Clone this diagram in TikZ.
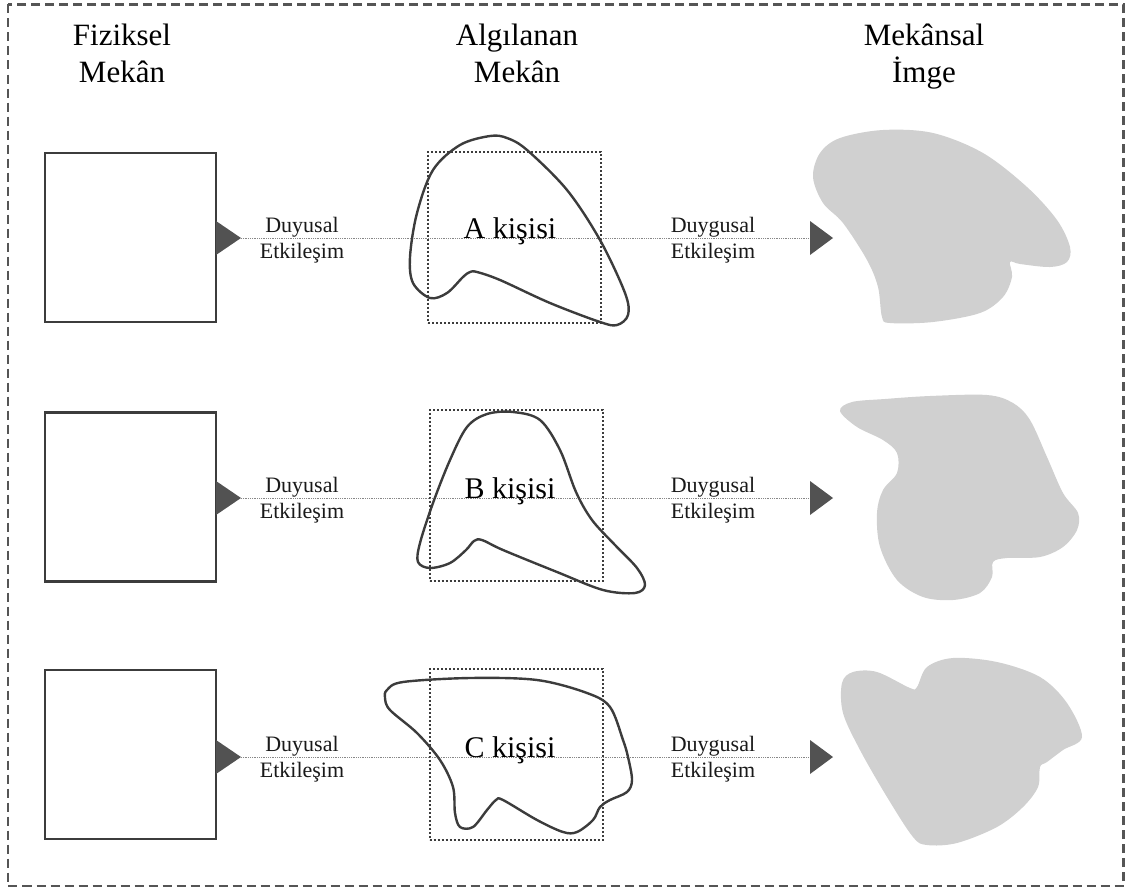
\documentclass[tikz,border=0pt]{standalone}
\usepackage{fontspec}
\setmainfont{Liberation Serif}
\definecolor{inkgray}{RGB}{60,60,60}
\definecolor{tipgray}{RGB}{82,82,82}
\definecolor{linkgray}{RGB}{135,135,135}
\definecolor{blobgray}{RGB}{208,208,208}
\definecolor{framegray}{RGB}{85,85,85}
\begin{document}
\begin{tikzpicture}[x=1pt,y=-1pt,
  border/.style={draw=framegray, line width=2.2pt, dash pattern=on 9pt off 5pt},
  hdr/.style={font=\fontsize{31}{36}\selectfont, align=center, inner sep=0pt, text=black},
  lbl/.style={font=\fontsize{22}{26}\selectfont, align=center, inner sep=0pt, text=black!90},
  who/.style={font=\fontsize{30}{36}\selectfont, inner sep=0pt, anchor=base, text=black},
  physbox/.style={draw=inkgray, line width=2.2pt, fill=white, minimum width=171pt, minimum height=169pt, inner sep=0pt},
  percframe/.style={draw=inkgray, line width=2pt, dash pattern=on 2pt off 2pt, minimum width=173pt, minimum height=171pt, inner sep=0pt},
  link/.style={draw=linkgray, line width=1pt, dash pattern=on 1pt off 0.8pt},
  tri/.style={fill=tipgray},
  percshape/.style={draw=inkgray, line width=2.4pt, line join=round},
  imgshape/.style={fill=blobgray}
]
\useasboundingbox (0,0) rectangle (1129,891);

% outer dashed frame
\draw[border] (8,4.5) rectangle (1123.5,886);

% column headings (anchor base = baseline of the last line)
\node[hdr, anchor=base] (hPhys) at (122,82) {Fiziksel\\Mekân};
\node[hdr, anchor=base] (hPerc) at (517,82) {Algılanan\\Mekân};
\node[hdr, anchor=base] (hImg)  at (924,82) {Mekânsal\\İmge};

% perceived-space frames
\node[percframe] (frA) at (514.5,237) {};
\node[percframe] (frB) at (516,495) {};
\node[percframe] (frC) at (516,754.5) {};

% rows: physical box, sensory link, emotional link
\foreach \r/\L/\sy/\who in {A/238/237.5/A kişisi, B/498/497/B kişisi, C/757/754.5/C kişisi}{
  \node[physbox] (sq\r) at (130.5,\sy) {};
  \coordinate (tip\r) at (241,\L);
  \coordinate (end\r) at (810,\L);
  \draw[link] (tip\r) -- (end\r);
  \fill[tri] (tip\r) -- ++(-25,-17) -- ++(0,34) -- cycle;
  \fill[tri] (end\r) -- ++(0,-17) -- ++(23,17) -- ++(-23,17) -- cycle;
  \node[lbl, anchor=base] (sense\r) at (302,\L+20) {Duyusal\\Etkileşim};
  \node[lbl, anchor=base] (emo\r) at (713,\L+20) {Duygusal\\Etkileşim};
  \node[who] (who\r) at (510,\L) {\who};
}

% perceived outlines
\draw[percshape] plot[smooth cycle, tension=0.55] coordinates {
  (490,136) (507,138) (527,150) (567,190) (600,240) (625,293) (628,315)
  (617,325) (600,322) (550,303) (500,280) (477,272) (470,272) (463,277)
  (447,293) (430,298) (413,283) (410,257) (417,213) (433,170) (460,145)};
\draw[percshape] plot[smooth cycle, tension=0.55] coordinates {
  (513,412) (540,420) (560,450) (576,492) (592,520) (615,545) (637,568)
  (645,585) (635,593) (603,590) (557,572) (503,550) (482,540) (474,541)
  (466,550) (450,563) (430,568) (418,562) (420,543) (433,503) (450,460)
  (467,427) (487,414)};
\draw[percshape] plot[smooth cycle, tension=0.55] coordinates {
  (387,690) (403,682) (470,678) (537,680) (587,693) (610,707) (623,740)
  (628,757) (632,780) (627,792) (610,800) (600,807) (593,820) (577,832)
  (563,832) (537,820) (503,800) (496,800) (487,810) (473,827) (460,827)
  (455,813) (453,787) (440,760) (417,733) (390,710) (385,698)};

% spatial images
\fill[imgshape] plot[smooth cycle, tension=0.55] coordinates {
  (813,177) (820,153) (840,138) (883,130) (933,133) (983,153) (1027,187)
  (1057,220) (1070,247) (1067,262) (1050,267) (1020,264) (1010,262)
  (1012,277) (1003,297) (980,313) (933,322) (890,323) (882,317) (878,287)
  (867,260) (843,223) (823,203)};
\fill[imgshape] plot[smooth cycle, tension=0.55] coordinates {
  (840,411) (852,402) (885,399) (930,396) (987,395) (1013,403) (1030,420)
  (1047,457) (1063,493) (1078,513) (1077,530) (1063,547) (1040,557)
  (1007,558) (993,562) (992,577) (980,593) (953,600) (923,597) (897,580)
  (880,547) (877,513) (883,490) (897,473) (897,453) (883,440) (857,427)};
\fill[imgshape] plot[smooth cycle, tension=0.55] coordinates {
  (842,683) (853,672) (877,672) (910,688) (917,687) (927,667) (953,658)
  (997,662) (1040,677) (1067,703) (1082,737) (1063,750) (1047,762)
  (1040,767) (1038,787) (1023,807) (997,827) (957,843) (927,845)
  (913,837) (887,797) (860,750) (843,713)};
\end{tikzpicture}
\end{document}
